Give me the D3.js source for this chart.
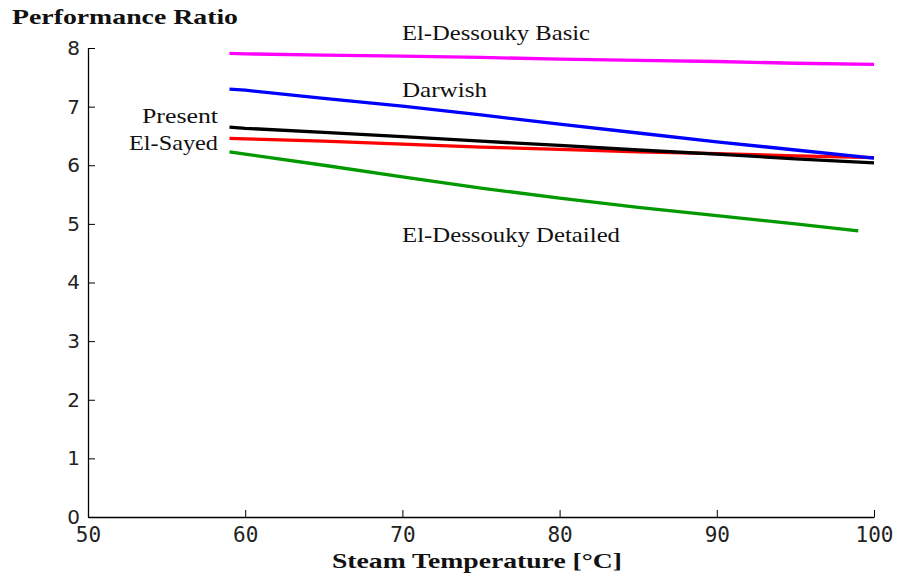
<!DOCTYPE html>
<html>
<head>
<meta charset="utf-8">
<script src="https://cdn.jsdelivr.net/npm/d3@7"></script>
<style>
  body { margin: 0; background: #fff; }
  svg { display: block; }
</style>
</head>
<body>
<svg id="chart" width="898" height="580"></svg>
<script>
// ---- data ----
const temps = [59, 60, 65, 70, 75, 80, 85, 90, 95, 100];
const tempsDetailed = [59, 60, 65, 70, 75, 80, 85, 90, 95, 99];
const elDessoukyBasic = [7.91, 7.90, 7.88, 7.86, 7.84, 7.81, 7.79, 7.77, 7.74, 7.72];
const darwish = [7.30, 7.28, 7.14, 7.01, 6.86, 6.70, 6.55, 6.40, 6.26, 6.12];
const present = [6.65, 6.63, 6.56, 6.49, 6.41, 6.34, 6.26, 6.19, 6.11, 6.04];
const elSayed = [6.46, 6.45, 6.41, 6.36, 6.31, 6.27, 6.23, 6.20, 6.16, 6.13];
const elDessoukyDetailed = [6.23, 6.19, 6.00, 5.80, 5.61, 5.44, 5.28, 5.14, 5.00, 4.88];
const xTicks = [50, 60, 70, 80, 90, 100];
const yTicks = [0, 1, 2, 3, 4, 5, 6, 7, 8];

const series = [
  { name: "El-Sayed", x: temps, y: elSayed, color: "#ff0000" },
  { name: "El-Dessouky Detailed", x: tempsDetailed, y: elDessoukyDetailed, color: "#009900" },
  { name: "El-Dessouky Basic", x: temps, y: elDessoukyBasic, color: "#ff00ff" },
  { name: "Darwish", x: temps, y: darwish, color: "#0000ff" },
  { name: "Present", x: temps, y: present, color: "#000000" }
];

const svg = d3.select("#chart");
const x = d3.scaleLinear().domain([50, 100]).range([88, 874]);
const y = d3.scaleLinear().domain([0, 8]).range([517, 48]);

// axes with inward ticks
const xAxis = d3.axisBottom(x).tickValues(xTicks).tickSize(-7).tickSizeOuter(0).tickPadding(0).tickFormat(d3.format("d"));
const yAxis = d3.axisLeft(y).tickValues(yTicks).tickSize(-7).tickSizeOuter(0).tickPadding(0).tickFormat(d3.format("d"));

const gx = svg.append("g").attr("transform", "translate(0,517)").call(xAxis);
gx.select(".domain").attr("stroke", "#000").attr("stroke-width", 1.3);
gx.selectAll(".tick line").attr("stroke", "#000").attr("stroke-width", 1);
gx.selectAll(".tick text")
  .attr("font-family", "'DejaVu Sans Mono', monospace")
  .attr("font-size", 21)
  .attr("fill", "#222")
  .attr("y", 25)
  .attr("dy", 0);

const gy = svg.append("g").attr("transform", "translate(88,0)").call(yAxis);
gy.select(".domain").attr("stroke", "#000").attr("stroke-width", 1.3);
gy.selectAll(".tick line").attr("stroke", "#000").attr("stroke-width", 1);
gy.selectAll(".tick text")
  .attr("font-family", "'DejaVu Sans', sans-serif")
  .attr("font-size", 20)
  .attr("fill", "#222")
  .attr("x", -8)
  .attr("dy", "0.32em");

// lines
const line = d3.line().x(d => x(d[0])).y(d => y(d[1]));
svg.append("g").selectAll("path")
  .data(series)
  .join("path")
  .attr("d", s => line(s.x.map((t, i) => [t, s.y[i]])))
  .attr("fill", "none")
  .attr("stroke", s => s.color)
  .attr("stroke-width", 3.3)
  .attr("stroke-linejoin", "round");

// annotations
const serif = "'Liberation Serif', 'Times New Roman', serif";
const ann = [
  { text: "El-Dessouky Basic", x: 402, y: 40, anchor: "start", w: 188 },
  { text: "Darwish", x: 402, y: 97, anchor: "start", w: 85 },
  { text: "El-Dessouky Detailed", x: 402, y: 242, anchor: "start", w: 218 },
  { text: "Present", x: 218, y: 123, anchor: "end", w: 76 },
  { text: "El-Sayed", x: 218, y: 150, anchor: "end", w: 89 }
];
svg.append("g").selectAll("text")
  .data(ann)
  .join("text")
  .attr("x", d => d.x)
  .attr("y", d => d.y)
  .attr("text-anchor", d => d.anchor)
  .attr("font-family", serif)
  .attr("font-size", 22)
  .attr("fill", "#111")
  .attr("textLength", d => d.w)
  .attr("lengthAdjust", "spacingAndGlyphs")
  .text(d => d.text);

// axis titles
svg.append("text")
  .attr("x", 12).attr("y", 24)
  .attr("font-family", serif)
  .attr("font-weight", "bold")
  .attr("font-size", 22)
  .attr("fill", "#111")
  .attr("textLength", 226)
  .attr("lengthAdjust", "spacingAndGlyphs")
  .text("Performance Ratio");

svg.append("text")
  .attr("x", 477).attr("y", 568)
  .attr("text-anchor", "middle")
  .attr("font-family", serif)
  .attr("font-weight", "bold")
  .attr("font-size", 22)
  .attr("fill", "#111")
  .attr("textLength", 290)
  .attr("lengthAdjust", "spacingAndGlyphs")
  .text("Steam Temperature [°C]");
</script>
</body>
</html>
